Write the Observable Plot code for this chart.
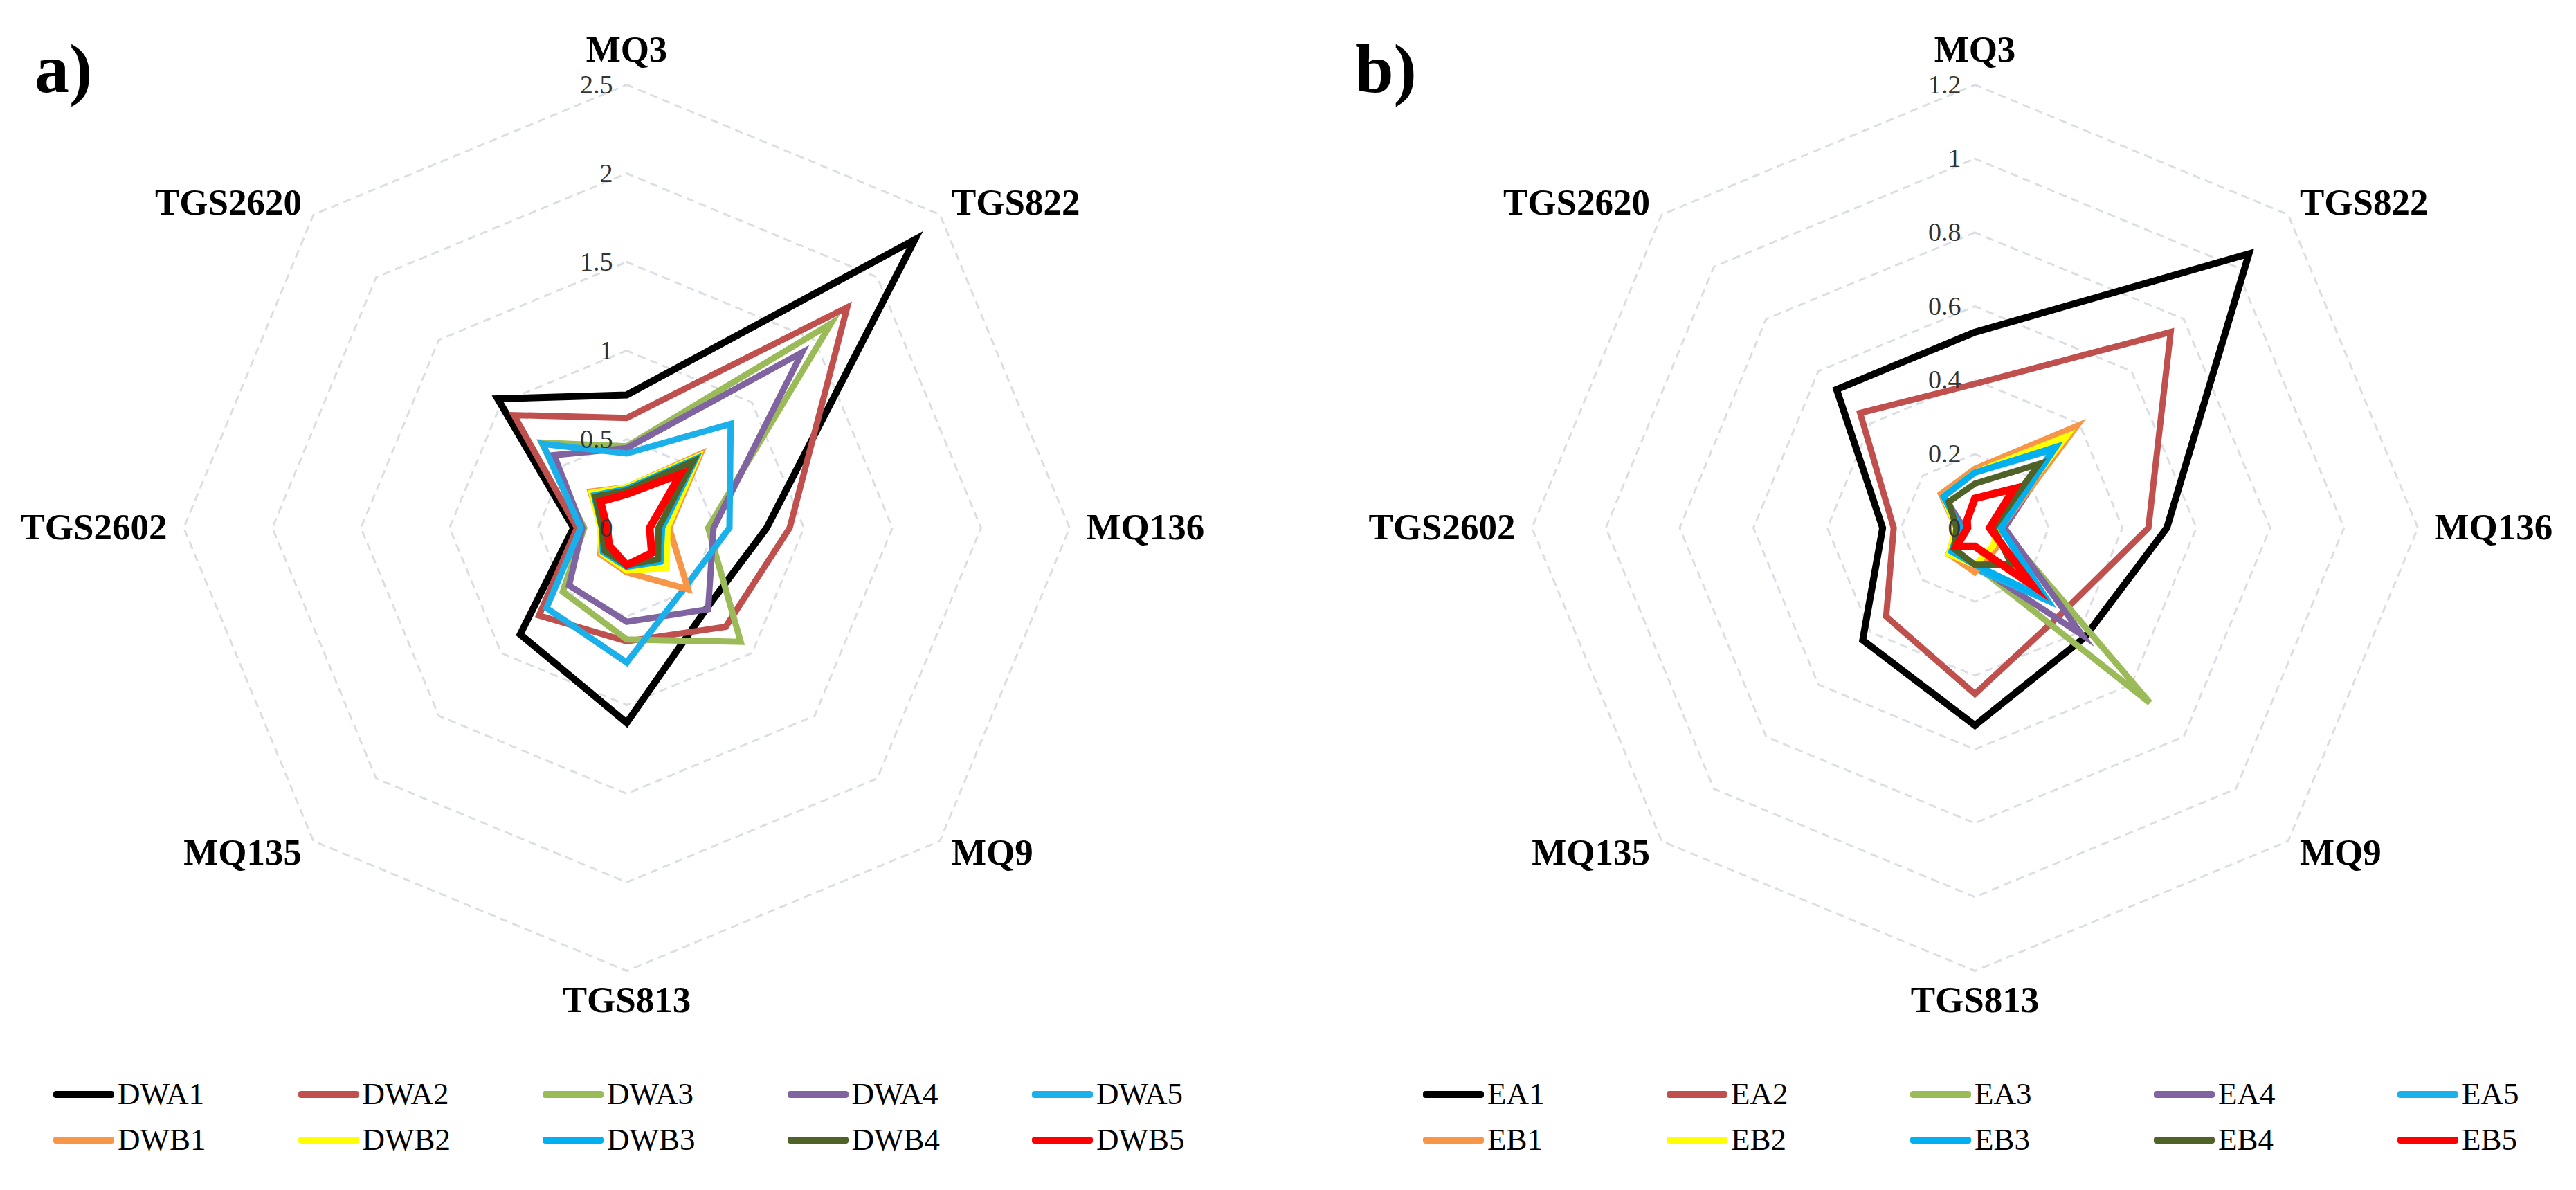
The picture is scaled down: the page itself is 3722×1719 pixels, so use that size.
<!DOCTYPE html>
<html>
<head>
<meta charset="utf-8">
<script src="https://cdn.jsdelivr.net/npm/d3@7"></script>
<script src="https://cdn.jsdelivr.net/npm/@observablehq/plot@0.6"></script>
<style>
  html, body { margin: 0; padding: 0; background: #fff; }
  #root { position: relative; width: 3722px; height: 1719px; background: #fff; overflow: hidden;
          font-family: "Liberation Serif", "Times New Roman", serif; }
  .panel { position: absolute; top: 0; width: 1861px; height: 1530px; }
  .panel svg { display: block; max-width: none !important; }
  .tag { position: absolute; font-weight: bold; font-size: 100px; line-height: 1; color: #000; }
  .item { position: absolute; display: flex; align-items: center; font-size: 45px; color: #000; line-height: 1; }
  .sw { width: 88px; height: 10px; border-radius: 4px; margin-right: 5px; }
</style>
</head>
<body>
<div id="root"></div>
<script>
// ---------- data ----------
const axes = ["MQ3", "TGS822", "MQ136", "MQ9", "TGS813", "MQ135", "TGS2602", "TGS2620"];

// panel a
const namesA = ["DWA1", "DWA2", "DWA3", "DWA4", "DWA5", "DWB1", "DWB2", "DWB3", "DWB4", "DWB5"];
const DWA1 = [0.75, 2.30, 0.79, 0.64, 1.10, 0.85, 0.30, 1.03];
const DWA2 = [0.62, 1.76, 0.92, 0.79, 0.64, 0.70, 0.28, 0.90];
const DWA3 = [0.46, 1.63, 0.46, 0.91, 0.63, 0.51, 0.24, 0.68];
const DWA4 = [0.45, 1.40, 0.49, 0.65, 0.53, 0.46, 0.25, 0.58];
const DWA5 = [0.42, 0.83, 0.58, 0.47, 0.76, 0.64, 0.26, 0.67];
const DWB1 = [0.23, 0.59, 0.24, 0.49, 0.25, 0.21, 0.14, 0.29];
const DWB2 = [0.23, 0.57, 0.23, 0.32, 0.24, 0.20, 0.15, 0.28];
const DWB3 = [0.22, 0.55, 0.20, 0.27, 0.22, 0.19, 0.14, 0.26];
const DWB4 = [0.21, 0.53, 0.18, 0.25, 0.21, 0.18, 0.14, 0.25];
const DWB5 = [0.19, 0.43, 0.13, 0.20, 0.21, 0.14, 0.11, 0.21];
const ticksA = [0, 0.5, 1, 1.5, 2, 2.5];

// panel b
const namesB = ["EA1", "EA2", "EA3", "EA4", "EA5", "EB1", "EB2", "EB3", "EB4", "EB5"];
const EA1 = [0.53, 1.05, 0.52, 0.42, 0.535, 0.43, 0.25, 0.53];
const EA2 = [0.39, 0.75, 0.47, 0.33, 0.45, 0.34, 0.22, 0.44];
const EA3 = [0.15, 0.33, 0.07, 0.67, 0.10, 0.10, 0.03, 0.12];
const EA4 = [0.15, 0.33, 0.08, 0.41, 0.10, 0.09, 0.03, 0.12];
const EA5 = [0.15, 0.30, 0.07, 0.28, 0.11, 0.10, 0.04, 0.12];
const EB1 = [0.16, 0.39, 0.07, 0.08, 0.12, 0.10, 0.05, 0.13];
const EB2 = [0.15, 0.35, 0.06, 0.07, 0.10, 0.10, 0.05, 0.12];
const EB3 = [0.15, 0.31, 0.07, 0.27, 0.10, 0.09, 0.04, 0.12];
const EB4 = [0.12, 0.245, 0.05, 0.14, 0.10, 0.08, 0.05, 0.10];
const EB5 = [0.08, 0.15, 0.04, 0.22, 0.05, 0.07, 0.02, 0.03];
const ticksB = [0, 0.2, 0.4, 0.6, 0.8, 1, 1.2];

const colors = ["#000000", "#c0504d", "#9bbb59", "#8064a2", "#1cb0ea",
                "#f79646", "#ffff00", "#00b0f0", "#4f6228", "#ff0000"];
const widths = [10, 9, 9, 9, 9, 9, 9, 9, 9, 11];

const valuesA = [DWA1, DWA2, DWA3, DWA4, DWA5, DWB1, DWB2, DWB3, DWB4, DWB5];
const valuesB = [EA1, EA2, EA3, EA4, EA5, EB1, EB2, EB3, EB4, EB5];

// ---------- drawing ----------
const root = document.getElementById("root");
const FONT = "Liberation Serif, Times New Roman, serif";

function radar({names, values, ticks, width, height, cx, cy, R}) {
  const max = d3.max(ticks);
  const k = max / R;                 // data units per pixel
  const n = axes.length;
  const ang = i => i * 2 * Math.PI / n;

  const pts = [];
  names.forEach((s, j) => values[j].forEach((v, i) =>
    pts.push({series: s, axis: axes[i], x: v * Math.sin(ang(i)), y: v * Math.cos(ang(i))})));

  const rings = [];
  ticks.filter(t => t > 0).forEach(t => axes.forEach((a, i) =>
    rings.push({ring: t, x: t * Math.sin(ang(i)), y: t * Math.cos(ang(i))})));

  const tickLabels = ticks.map(t => ({label: String(t), x: 0, y: t}));

  const gap = 24 * k;
  const labels = axes.map((a, i) => {
    const s = Math.sin(ang(i)), c = Math.cos(ang(i));
    const rr = max + (Math.abs(s) < 0.1 ? (c > 0 ? 34 : 22) * k : gap);
    return {label: a, x: rr * s, y: rr * c,
            side: s > 0.1 ? "right" : s < -0.1 ? "left" : (c > 0 ? "top" : "bottom")};
  });
  const lab = (side, opts) => Plot.text(labels.filter(d => d.side === side), {
    x: "x", y: "y", text: "label", fontSize: 53, fontWeight: "bold", fontFamily: FONT,
    fill: "#000", ...opts
  });

  const marks = [
    Plot.line(rings, {x: "x", y: "y", z: "ring", curve: "linear-closed",
      stroke: "#dbdfe5", strokeWidth: 3, strokeDasharray: "9,10"}),
    ...names.map((s, j) => Plot.line(pts.filter(d => d.series === s), {
      x: "x", y: "y", stroke: "series", curve: "linear-closed",
      strokeWidth: widths[j], strokeLinejoin: "miter", strokeMiterlimit: 10})),
    Plot.text(tickLabels, {x: "x", y: "y", text: "label", textAnchor: "end", dx: -20,
      fontSize: 38, fontFamily: FONT, fill: "#333", ariaLabel: "tick-labels"}),
    lab("right", {textAnchor: "start"}),
    lab("left", {textAnchor: "end"}),
    lab("top", {textAnchor: "middle", lineAnchor: "bottom"}),
    lab("bottom", {textAnchor: "middle", lineAnchor: "top"})
  ];

  const svg = Plot.plot({
    width, height, margin: 0,
    x: {domain: [-cx * k, (width - cx) * k], axis: null},
    y: {domain: [-(height - cy) * k, cy * k], axis: null},
    color: {domain: names, range: colors},
    style: {background: "transparent", fontFamily: FONT},
    marks
  });

  // narrow tick labels as in the original
  svg.querySelectorAll('g[aria-label="tick-labels"] text').forEach(t => {
    if (t.hasAttribute("x") || t.hasAttribute("y")) {
      const x = t.getAttribute("x") || 0, y = t.getAttribute("y") || 0;
      t.removeAttribute("x"); t.removeAttribute("y");
      t.setAttribute("transform", `translate(${x},${y}) scale(0.74,1)`);
    } else {
      t.setAttribute("transform", (t.getAttribute("transform") || "") + " scale(0.74,1)");
    }
  });
  return svg;
}

function panel(left, cfg, tag, tagLeft, legendStart, legendStep) {
  const div = document.createElement("div");
  div.className = "panel";
  div.style.left = left + "px";
  div.appendChild(radar(cfg));
  root.appendChild(div);

  const t = document.createElement("div");
  t.className = "tag";
  t.style.left = tagLeft + "px";
  t.style.top = "50px";
  t.textContent = tag;
  root.appendChild(t);

  cfg.names.forEach((name, j) => {
    const it = document.createElement("div");
    it.className = "item";
    const row = Math.floor(j / 5), col = j % 5;
    it.style.left = (legendStart + col * legendStep) + "px";
    it.style.top = (1581 + row * 66 - 23) + "px";
    const sw = document.createElement("span");
    sw.className = "sw";
    sw.style.background = colors[j];
    it.appendChild(sw);
    it.appendChild(document.createTextNode(name));
    root.appendChild(it);
  });
}

panel(0, {names: namesA, values: valuesA, ticks: ticksA, width: 1861, height: 1530, cx: 905, cy: 762, R: 640},
      "a)", 50, 77, 353.5);
panel(1861, {names: namesB, values: valuesB, ticks: ticksB, width: 1861, height: 1530, cx: 992, cy: 762, R: 640},
      "b)", 1958, 2056, 352);
</script>
</body>
</html>
